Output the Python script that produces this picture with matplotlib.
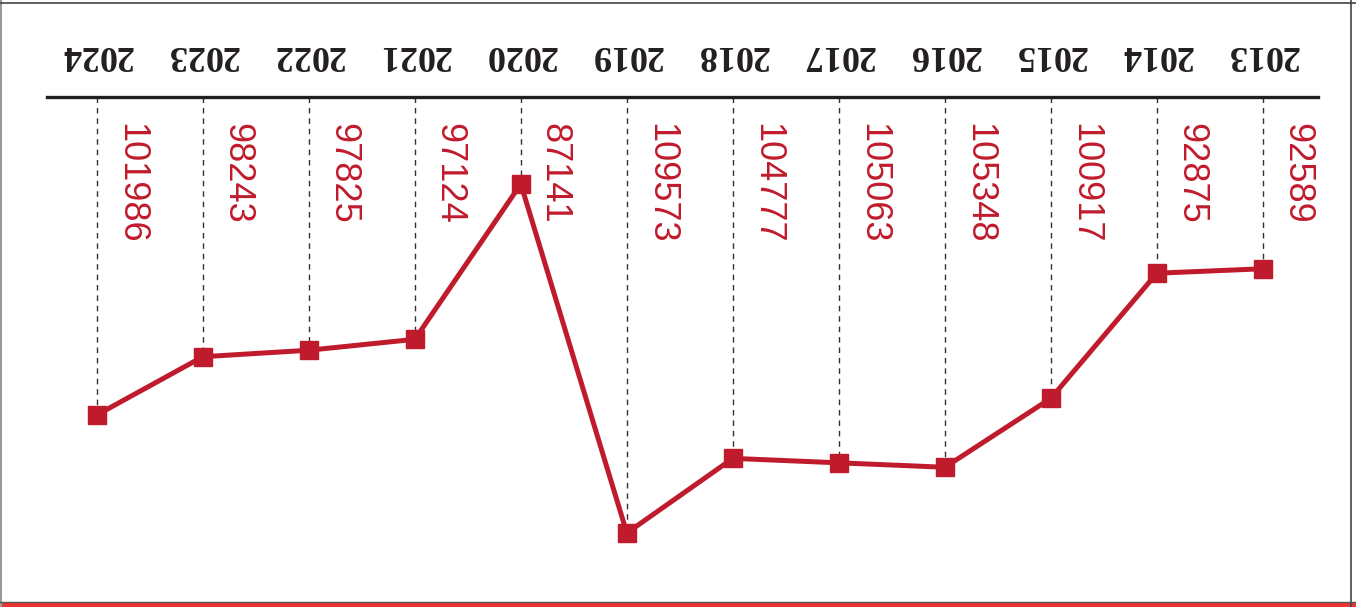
import matplotlib.pyplot as plt
from matplotlib.transforms import blended_transform_factory
from matplotlib.lines import Line2D
from matplotlib.patches import Rectangle

# dados (gráfico girado 180 graus, como na referência)
anos = [2013, 2014, 2015, 2016, 2017, 2018, 2019, 2020, 2021, 2022, 2023, 2024]
valores = [92589, 92875, 100917, 105348, 105063, 104777, 109573, 87141, 97124, 97825, 98243, 101986]

vermelho = '#c01b2d'

fig = plt.figure(figsize=(13.56, 6.07), dpi=100)
W, H = 1356, 607
ax = fig.add_axes([47 / W, (H - 600) / H, (1318 - 47) / W, (600 - 97) / H])

# eixos invertidos -> tudo de cabeça para baixo
ax.set_xlim(2024.47, 2012.48)
ax.set_ylim(113880, 81549)

for lado in ['left', 'right', 'bottom']:
    ax.spines[lado].set_visible(False)
ax.spines['top'].set_linewidth(2.4)
ax.spines['top'].set_color('#231f20')
ax.set_xticks([])
ax.set_yticks([])

# linhas tracejadas do eixo até cada ponto
y_topo = ax.get_ylim()[1]
ax.vlines(anos, y_topo, valores, colors='#333333', linewidth=1.0,
          linestyles=(0, (4, 3.5)), zorder=1)

ax.plot(anos, valores, color=vermelho, linewidth=3.6, marker='s',
        markersize=12.5, zorder=3)

trans = blended_transform_factory(ax.transData, ax.transAxes)
for ano, v in zip(anos, valores):
    ax.text(ano, 1 + 42 / 503, str(ano), transform=trans, rotation=180,
            ha='center', va='center', fontsize=26, color='#231f20',
            family='Liberation Serif', fontweight='bold', clip_on=False)
    ax.annotate(str(v), xy=(ano, 1), xycoords=trans, xytext=(11.5, -19),
                textcoords='offset points', rotation=270, ha='left', va='top',
                fontsize=26, color=vermelho, family='Liberation Sans',
                annotation_clip=False)

# moldura e faixa vermelha
fig.add_artist(Line2D([0.5 / W, 0.5 / W], [0, 1], color='#999999', linewidth=1.5))
fig.add_artist(Line2D([0, 1], [1 - 2.5 / H, 1 - 2.5 / H], color='#444444', linewidth=1.2))
fig.add_artist(Line2D([1350.5 / W, 1350.5 / W], [0, 1], color='#444444', linewidth=1.2))
fig.add_artist(Line2D([0, 1], [5 / H, 5 / H], color='#555555', linewidth=1.0))
fig.add_artist(Rectangle((0, 0), 1, 4.5 / H, transform=fig.transFigure,
                         color='#ee3333', linewidth=0))

fig.savefig('out.png', dpi=100)
